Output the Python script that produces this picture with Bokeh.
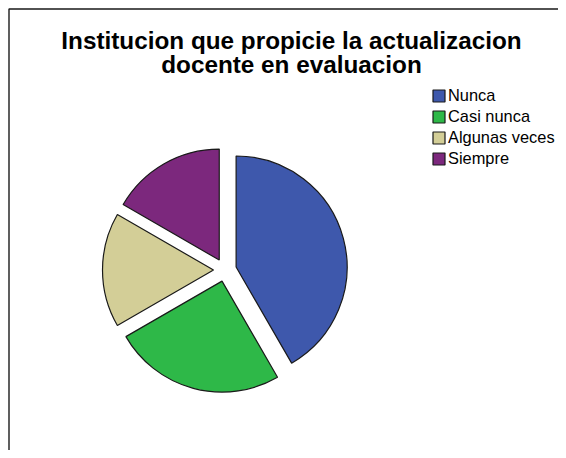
import numpy as np
from bokeh.plotting import figure
from bokeh.models import ColumnDataSource, Legend, LegendItem, Label, Range1d
from bokeh.embed import file_html
from bokeh.resources import INLINE

categories = ["Nunca", "Casi nunca", "Algunas veces", "Siempre"]
counts = [5, 3, 2, 2]
colors = ["#3E58AC", "#2EB848", "#D3CE97", "#7C287D"]
title_lines = ["Institucion que propicie la actualizacion", "docente en evaluacion"]

W, H = 558, 450
p = figure(width=W, height=H, output_backend="svg", toolbar_location=None,
           x_range=Range1d(0, W), y_range=Range1d(0, H), min_border=0)
p.axis.visible = False
p.grid.visible = False
p.outline_line_color = None
p.background_fill_color = "white"
p.border_fill_color = "white"

# chart frame (left and top edges)
p.line(x=[8.5, 8.5, W], y=[0, H - 8.5, H - 8.5], line_color="#1a1a1a", line_width=1.4)

vals = np.array(counts, dtype=float)
ang = vals / vals.sum() * 2 * np.pi
start = np.pi / 2 - np.concatenate([[0.0], np.cumsum(ang)[:-1]])
end = start - ang
mid = (start + end) / 2
cx, cy, r, d = 224.5, 180.5, 111, 11.5
src = ColumnDataSource(dict(
    cat=categories, color=colors, start=start, end=end,
    x=cx + d * np.cos(mid), y=cy + d * np.sin(mid)))

wr = p.wedge(x="x", y="y", radius=r, start_angle="start", end_angle="end",
             direction="clock", fill_color="color", line_color="#1a1a1a",
             line_width=1.2, source=src)

items = [LegendItem(label=c, renderers=[wr], index=i) for i, c in enumerate(categories)]
legend = Legend(items=items, location=(431, 281), border_line_color=None,
                background_fill_alpha=0, padding=0, margin=0, spacing=0,
                glyph_width=15, glyph_height=15, label_height=21, label_standoff=2,
                label_text_font="Liberation Sans", label_text_font_size="16.4px",
                label_text_color="#000000")
p.add_layout(legend, "center")

for i, t in enumerate(title_lines):
    p.add_layout(Label(x=291, y=410 - 24 * i, text=t, text_align="center",
                       text_baseline="alphabetic", text_font="Liberation Sans",
                       text_font_size="24.3px", text_font_style="bold",
                       text_color="#000000"))

open("out.html", "w").write(file_html(p, INLINE))
